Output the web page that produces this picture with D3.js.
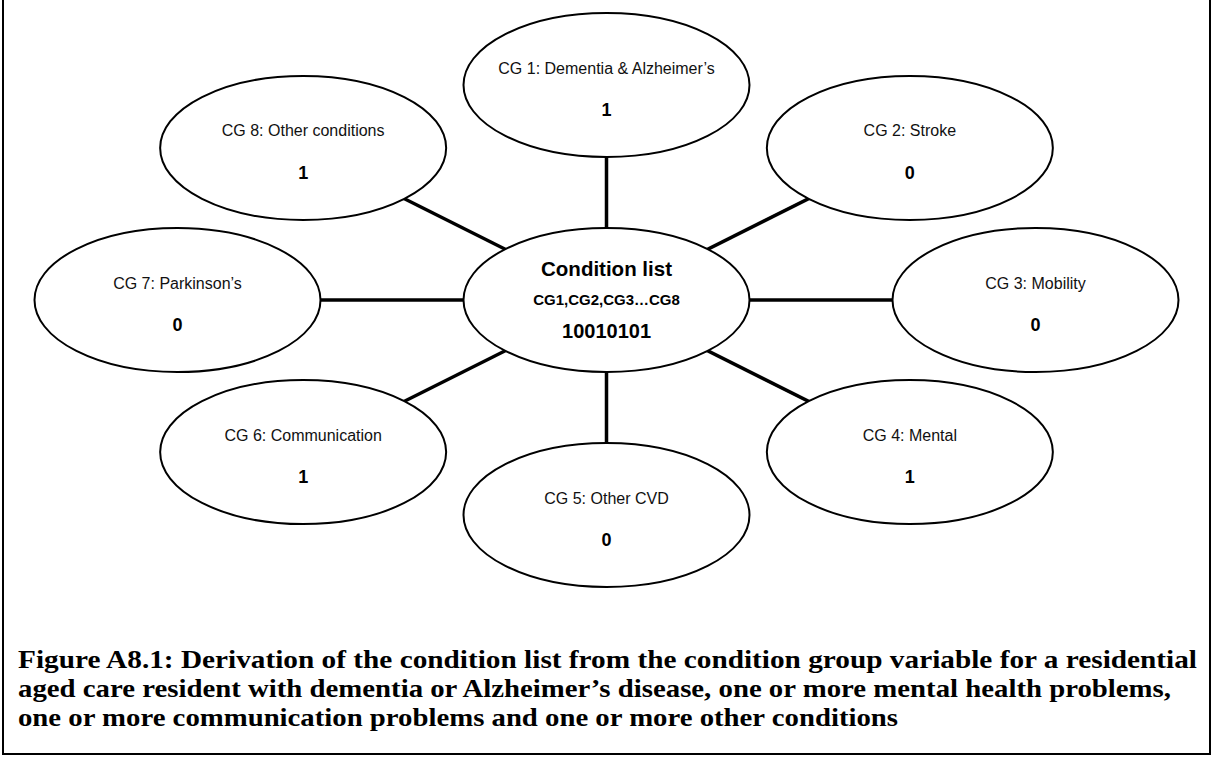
<!DOCTYPE html>
<html>
<head>
<meta charset="utf-8">
<script src="https://cdn.jsdelivr.net/npm/d3@7"></script>
<style>
  html, body { margin: 0; padding: 0; background: #fff; }
  svg { display: block; }
</style>
</head>
<body>
<script>
// ---- data ----
const groups = [
  "CG 1: Dementia & Alzheimer\u2019s",
  "CG 2: Stroke",
  "CG 3: Mobility",
  "CG 4: Mental",
  "CG 5: Other CVD",
  "CG 6: Communication",
  "CG 7: Parkinson\u2019s",
  "CG 8: Other conditions"
];
const values = [1, 0, 0, 1, 0, 1, 0, 1];
const centerTitle = "Condition list";
const centerSub = "CG1,CG2,CG3\u2026CG8";
const captionLines = [
  "Figure A8.1: Derivation of the condition list from the condition group variable for a residential",
  "aged care resident with dementia or Alzheimer\u2019s disease, one or more mental health problems,",
  "one or more communication problems and one or more other conditions"
];
const captionWidths = [1179, 1153, 880];

// ---- layout ----
const W = 1213, H = 758;
const cx = 606.5, cy = 300, Rx = 429, Ry = 215;
const erx = 143, ery = 72;

const svg = d3.select("body").append("svg").attr("width", W).attr("height", H);

// frame (open at top)
svg.append("path")
  .attr("d", d3.line()([[3, 0], [3, 754], [1210, 754], [1210, 0]]))
  .attr("fill", "none").attr("stroke", "#000").attr("stroke-width", 2);

const angle = d3.scaleLinear().domain([0, groups.length]).range([-Math.PI / 2, 1.5 * Math.PI]);
const nodes = groups.map((g, i) => ({
  label: g, value: values[i],
  x: cx + Rx * Math.cos(angle(i)),
  y: cy + Ry * Math.sin(angle(i))
}));

// connectors
svg.append("g").selectAll("line").data(nodes).join("line")
  .attr("x1", cx).attr("y1", cy)
  .attr("x2", d => d.x).attr("y2", d => d.y)
  .attr("stroke", "#000").attr("stroke-width", 3.5);

// outer ellipses
const g = svg.append("g").selectAll("g").data(nodes).join("g")
  .attr("transform", d => `translate(${d.x},${d.y})`);
g.append("ellipse").attr("rx", erx).attr("ry", ery)
  .attr("fill", "#fff").attr("stroke", "#000").attr("stroke-width", 2);
g.append("text").attr("y", -17).attr("text-anchor", "middle").attr("dominant-baseline", "central")
  .attr("font-family", "'Liberation Sans', Arial, sans-serif").attr("font-size", 16)
  .attr("fill", "#111")
  .text(d => d.label);
g.append("text").attr("y", 25).attr("text-anchor", "middle").attr("dominant-baseline", "central")
  .attr("font-family", "'Liberation Sans', Arial, sans-serif").attr("font-size", 18).attr("font-weight", "bold")
  .text(d => d.value);

// center ellipse
const c = svg.append("g").attr("transform", `translate(${cx},${cy})`);
c.append("ellipse").attr("rx", erx).attr("ry", ery)
  .attr("fill", "#fff").attr("stroke", "#000").attr("stroke-width", 2);
c.append("text").attr("y", -32).attr("text-anchor", "middle").attr("dominant-baseline", "central")
  .attr("font-family", "'Liberation Sans', Arial, sans-serif").attr("font-size", 20.5).attr("font-weight", "bold")
  .text(centerTitle);
c.append("text").attr("y", -1).attr("text-anchor", "middle").attr("dominant-baseline", "central")
  .attr("font-family", "'Liberation Sans', Arial, sans-serif").attr("font-size", 15).attr("font-weight", "bold")
  .text(centerSub);
c.append("text").attr("y", 31).attr("text-anchor", "middle").attr("dominant-baseline", "central")
  .attr("font-family", "'Liberation Sans', Arial, sans-serif").attr("font-size", 20).attr("font-weight", "bold")
  .text(values.join(""));

// caption
svg.append("g").selectAll("text").data(captionLines).join("text")
  .attr("x", 18).attr("y", (d, i) => 668 + i * 29)
  .attr("font-family", "'Liberation Serif', 'DejaVu Serif', serif").attr("font-size", 25).attr("font-weight", "bold")
  .attr("textLength", (d, i) => captionWidths[i])
  .attr("lengthAdjust", "spacingAndGlyphs")
  .text(d => d);
</script>
</body>
</html>
